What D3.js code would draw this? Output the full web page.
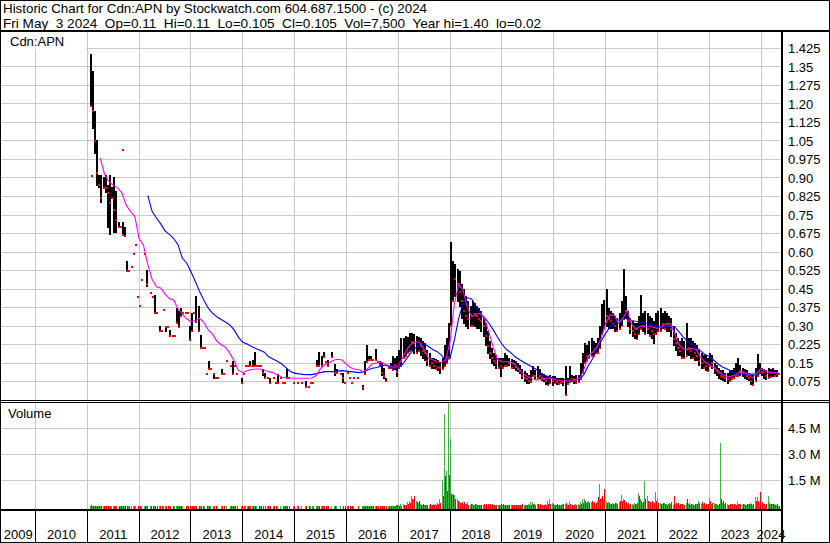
<!DOCTYPE html>
<html><head><meta charset="utf-8">
<script src="https://cdn.jsdelivr.net/npm/d3@7"></script>
<style>
body{margin:0;background:#fff}
svg{display:block}
text{font-family:"Liberation Sans",Arial,sans-serif;font-size:13px;fill:#000;white-space:pre}
</style>
</head><body><svg id="c" width="830" height="543"></svg>
<script>
// ---------------- data ----------------
const titleLine = "Historic Chart for Cdn:APN by Stockwatch.com 604.687.1500 - (c) 2024";
const infoLine  = "Fri May  3 2024  Op=0.11  Hi=0.11  Lo=0.105  Cl=0.105  Vol=7,500  Year hi=1.40  lo=0.02";
const symbolLabel = "Cdn:APN";
const volumeLabel = "Volume";
const yearLabels = [2009,2010,2011,2012,2013,2014,2015,2016,2017,2018,2019,2020,2021,2022,2023,2024];
const gridYears  = [2010,2011,2012,2013,2014,2015,2016,2017,2018,2019,2020,2021,2022,2023,2024];
const priceTicks = [1.425,1.35,1.275,1.2,1.125,1.05,0.975,0.9,0.825,0.75,0.675,0.6,0.525,0.45,0.375,0.3,0.225,0.15,0.075];
const priceTickLabels = ["1.425","1.35","1.275","1.20","1.125","1.05","0.975","0.90","0.825","0.75","0.675","0.60","0.525","0.45","0.375","0.30","0.225","0.15","0.075"];
const volTicks = [1.5e6,3.0e6,4.5e6];
const volTickLabels = ["1.5 M","3.0 M","4.5 M"];

// half-month periods starting Jan 1-15 2011 (24 per year); null close = no trade,
// null high/low = single-price period
const periodStartYear = 2011;
const close = [
/*2011*/ null,1.25,1.17,1.05,0.92,0.87,0.82,0.87,0.86,0.84,0.80,0.845,0.77,0.73,0.70,0.70,0.67,0.666,0.523,0.523,0.541,0.592,0.628,0.419,
/*2012*/ 0.383,0.487,0.592,0.47,null,0.433,0.419,0.352,0.352,0.28,0.28,0.365,0.298,0.298,0.261,0.261,0.261,0.352,0.298,0.352,0.352,0.352,0.352,0.244,
/*2013*/ 0.28,0.352,0.386,0.28,0.212,0.212,0.212,0.105,0.125,0.125,0.105,0.089,0.089,null,0.105,0.105,0.159,null,0.139,0.139,0.139,0.105,null,0.071,
/*2014*/ 0.105,0.139,0.139,0.139,0.139,0.176,0.139,0.139,0.139,0.109,0.089,0.089,0.071,null,0.089,0.071,0.089,0.089,0.071,0.071,0.089,0.089,null,0.071,
/*2015*/ null,0.071,null,0.071,null,0.071,0.055,0.071,0.071,null,0.139,0.193,0.139,0.176,0.156,0.139,null,0.176,0.109,0.125,null,0.105,0.089,0.071,
/*2016*/ 0.109,0.089,0.071,0.089,null,0.089,null,0.05,0.139,0.176,0.163,0.176,0.163,0.163,0.156,0.143,0.11,0.10,0.079,0.13,0.15,0.16,0.143,0.116,
/*2017*/ 0.15,0.20,0.22,0.23,0.24,0.24,0.235,0.23,0.23,0.23,0.22,0.20,0.19,0.16,0.16,0.15,0.14,0.14,0.135,0.13,0.15,0.17,0.20,0.25,
/*2018*/ 0.45,0.50,0.49,0.47,0.44,0.40,0.36,0.34,0.33,0.35,0.36,0.35,0.34,0.33,0.32,0.30,0.26,0.22,0.19,0.17,0.16,0.15,0.15,0.14,
/*2019*/ 0.15,0.16,0.16,0.15,0.15,0.145,0.135,0.125,0.12,0.10,0.09,0.085,0.08,0.10,0.11,0.10,0.11,0.10,0.09,0.085,0.08,0.08,0.085,0.08,
/*2020*/ 0.08,0.075,0.075,0.08,0.075,0.075,0.08,0.09,0.085,0.08,0.085,0.09,0.12,0.15,0.19,0.18,0.20,0.21,0.21,0.21,0.22,0.26,0.33,0.35,
/*2021*/ 0.34,0.33,0.32,0.31,0.30,0.30,0.31,0.34,0.38,0.36,0.32,0.29,0.28,0.27,0.28,0.30,0.31,0.30,0.30,0.29,0.29,0.28,0.27,0.30,
/*2022*/ 0.31,0.32,0.31,0.32,0.31,0.30,0.29,0.25,0.23,0.21,0.20,0.20,0.20,0.22,0.21,0.20,0.20,0.19,0.18,0.16,0.15,0.15,0.14,0.14,
/*2023*/ 0.16,0.15,0.13,0.12,0.11,0.10,0.095,0.09,0.085,0.095,0.10,0.11,0.12,0.13,0.12,0.11,0.105,0.10,0.09,0.08,0.08,0.11,0.13,0.13,
/*2024*/ 0.115,0.11,0.10,0.11,0.115,0.11,0.11,0.105,0.105
];
const high = [
/*2011*/ null,1.40,1.33,1.17,1.05,0.91,0.91,0.90,0.91,0.87,0.91,0.86,0.90,0.845,0.72,null,0.72,0.70,0.56,null,null,null,null,null,
/*2012*/ null,null,null,0.527,null,null,null,0.423,null,0.30,null,null,0.298,null,0.283,null,null,0.372,0.36,0.372,null,null,null,0.298,
/*2013*/ 0.352,null,0.419,0.38,0.264,null,null,null,0.156,null,0.105,null,null,null,0.125,null,null,null,null,0.156,null,null,null,0.089,
/*2014*/ null,null,null,0.156,0.163,0.193,null,null,null,0.125,0.109,null,0.089,null,null,null,0.105,null,null,null,0.123,null,null,null,
/*2015*/ null,null,null,null,null,0.075,null,null,null,null,0.16,0.193,0.176,0.193,null,0.163,null,0.193,0.143,0.125,null,null,0.109,null,
/*2016*/ null,null,null,null,null,null,null,0.058,0.156,0.22,0.176,0.176,null,0.204,null,0.156,0.15,0.13,0.089,null,0.15,0.179,0.17,0.176,
/*2017*/ 0.20,0.25,0.25,0.26,0.255,0.27,0.27,0.265,0.26,0.255,0.25,0.24,0.23,0.20,0.19,0.17,0.17,0.165,0.16,0.155,0.17,0.22,0.25,0.31,
/*2018*/ 0.64,0.56,0.55,0.53,0.52,0.47,0.45,0.42,0.40,0.38,0.40,0.39,0.38,0.37,0.36,0.33,0.31,0.28,0.24,0.21,0.19,0.18,0.17,0.17,
/*2019*/ 0.17,0.19,0.18,0.17,0.165,0.16,0.156,0.15,0.14,0.125,0.115,0.11,0.10,0.12,0.136,0.12,0.136,0.125,0.11,0.105,0.096,0.095,0.10,0.095,
/*2020*/ 0.095,0.09,0.09,0.09,0.09,0.136,0.09,0.136,0.10,0.095,0.10,0.10,0.15,0.19,0.231,0.22,0.24,0.25,0.24,0.23,0.25,0.30,0.386,0.406,
/*2021*/ 0.45,0.37,0.36,0.35,0.34,0.33,0.35,0.40,0.53,0.42,0.36,0.33,0.32,0.31,0.31,0.34,0.425,0.35,0.36,0.35,0.34,0.33,0.32,0.35,
/*2022*/ 0.36,0.37,0.35,0.36,0.35,0.34,0.33,0.30,0.27,0.25,0.24,0.25,0.24,0.31,0.25,0.25,0.24,0.23,0.22,0.20,0.19,0.18,0.18,0.17,
/*2023*/ 0.19,0.18,0.15,0.14,0.13,0.12,0.12,0.11,0.11,0.115,0.12,0.13,0.15,0.17,0.14,0.13,0.125,0.12,0.11,0.10,0.10,0.13,0.187,0.15,
/*2024*/ 0.13,0.125,0.12,0.13,0.125,0.13,0.12,0.12,0.11
];
const low = [
/*2011*/ null,1.19,1.10,1.00,0.87,0.86,0.80,0.86,0.84,0.70,0.67,0.82,0.68,0.68,0.70,null,0.67,0.666,0.52,null,null,null,null,null,
/*2012*/ null,null,null,0.46,null,null,null,0.352,null,0.28,null,null,0.28,null,0.261,null,null,0.312,0.298,0.34,null,null,null,0.244,
/*2013*/ 0.28,null,0.318,0.28,0.208,null,null,null,0.125,null,0.089,null,null,null,0.105,null,null,null,null,0.105,null,null,null,0.071,
/*2014*/ null,null,null,0.139,0.139,0.139,null,null,null,0.102,0.089,null,0.068,null,null,null,0.071,null,null,null,0.089,null,null,null,
/*2015*/ null,null,null,null,null,0.053,null,null,null,null,0.139,0.139,0.139,0.176,null,0.136,null,0.176,0.102,0.109,null,null,0.071,null,
/*2016*/ null,null,null,null,null,null,null,0.042,0.105,0.156,0.163,0.163,null,0.163,null,0.143,0.10,0.089,0.079,null,0.13,0.123,0.123,0.095,
/*2017*/ 0.13,0.14,0.17,0.18,0.19,0.20,0.20,0.19,0.19,0.20,0.18,0.17,0.16,0.14,0.14,0.13,0.13,0.125,0.12,0.11,0.125,0.14,0.15,0.17,
/*2018*/ 0.30,0.40,0.42,0.40,0.38,0.33,0.31,0.30,0.29,0.30,0.30,0.30,0.29,0.29,0.28,0.26,0.22,0.19,0.17,0.15,0.14,0.13,0.13,0.096,
/*2019*/ 0.13,0.14,0.14,0.14,0.13,0.13,0.12,0.116,0.11,0.09,0.075,0.07,0.07,0.075,0.10,0.09,0.09,0.087,0.08,0.075,0.065,0.06,0.07,0.06,
/*2020*/ 0.07,0.065,0.065,0.07,0.06,0.021,0.065,0.075,0.075,0.07,0.07,0.075,0.085,0.11,0.15,0.16,0.17,0.18,0.18,0.19,0.19,0.21,0.27,0.29,
/*2021*/ 0.30,0.29,0.29,0.29,0.28,0.28,0.29,0.30,0.33,0.33,0.30,0.27,0.26,0.25,0.25,0.27,0.29,0.28,0.27,0.27,0.26,0.25,0.23,0.27,
/*2022*/ 0.28,0.28,0.29,0.29,0.28,0.28,0.26,0.22,0.20,0.18,0.18,0.17,0.17,0.18,0.18,0.17,0.17,0.16,0.16,0.14,0.13,0.13,0.12,0.12,
/*2023*/ 0.14,0.13,0.11,0.10,0.09,0.085,0.08,0.075,0.07,0.08,0.085,0.09,0.10,0.10,0.10,0.095,0.09,0.085,0.08,0.065,0.06,0.08,0.10,0.11,
/*2024*/ 0.10,0.09,0.085,0.09,0.095,0.095,0.10,0.095,0.105
];
// isolated single trades (fractional year, price)
const oddDates  = [2011.085, 2011.683];
const oddPrices = [0.909, 1.013];

// daily-peak volume per half-month, thousands of shares (up days / down days)
const volUp = [
/*2011*/ 0,40,30,20,10,30,20,30,20,10,20,30,10,20,0,10,20,10,0,10,20,10,20,0,
/*2012*/ 10,20,30,10,0,10,0,20,0,10,0,20,10,0,10,0,10,30,20,20,10,0,10,0,
/*2013*/ 10,20,30,0,10,0,10,0,20,10,10,0,10,0,10,0,20,0,10,20,10,0,0,10,
/*2014*/ 0,20,10,10,20,30,10,0,10,0,0,10,10,0,20,0,20,10,0,10,20,0,0,10,
/*2015*/ 0,10,0,10,0,10,0,20,10,0,20,30,10,20,0,10,0,20,10,20,0,10,0,0,
/*2016*/ 10,0,10,10,0,0,0,10,30,40,20,30,10,20,10,0,20,10,0,20,30,40,20,60,
/*2017*/ 60,120,130,100,250,300,620,420,300,200,150,80,60,100,80,100,120,150,200,440,1540,5300,2050,6000,
/*2018*/ 3900,700,680,400,300,200,150,120,230,100,150,100,120,80,100,60,80,100,80,60,100,80,90,60,
/*2019*/ 80,100,60,80,100,50,60,80,50,60,80,100,120,230,250,150,120,80,100,80,150,300,420,200,
/*2020*/ 100,80,60,100,120,150,100,300,100,80,120,150,250,400,420,200,300,250,200,150,300,1290,500,400,
/*2021*/ 300,250,150,200,150,200,250,680,400,200,150,100,150,200,150,790,400,200,1440,600,300,200,250,800,
/*2022*/ 500,200,150,200,150,120,150,100,150,120,100,150,120,200,150,100,120,100,150,300,150,120,100,150,
/*2023*/ 500,150,200,120,100,3650,200,150,120,100,150,100,120,300,150,100,120,100,150,200,100,520,520,200,
/*2024*/ 100,150,100,600,150,120,150,100,30
];
const volDown = [
/*2011*/ 0,50,40,40,30,20,30,10,20,30,30,0,30,30,20,10,10,20,30,20,0,10,0,20,
/*2012*/ 20,0,10,30,0,20,10,20,10,20,10,0,20,10,20,10,0,10,30,10,0,10,10,20,
/*2013*/ 20,10,10,30,20,10,0,20,10,0,10,20,0,0,10,10,0,0,10,10,10,20,0,10,
/*2014*/ 10,0,10,20,10,10,0,10,10,20,20,10,20,0,10,10,0,0,10,10,10,10,0,10,
/*2015*/ 0,10,0,0,0,20,10,0,10,0,10,10,20,10,20,20,0,0,30,0,0,0,20,10,
/*2016*/ 10,20,10,0,0,10,0,20,10,20,10,10,20,20,10,20,30,20,30,10,10,30,40,80,
/*2017*/ 40,30,50,90,120,200,400,580,250,300,100,120,100,80,120,60,90,100,150,200,600,1770,900,1800,
/*2018*/ 700,680,400,300,200,250,230,150,100,150,80,120,80,100,60,120,150,140,120,150,90,60,100,120,
/*2019*/ 120,80,100,60,50,80,100,70,90,120,60,80,60,100,120,100,150,120,60,90,100,120,150,120,
/*2020*/ 80,120,100,80,150,200,80,120,80,100,80,100,150,200,300,250,200,300,250,180,520,400,600,1000,
/*2021*/ 200,200,120,150,200,120,300,300,350,250,200,150,100,150,200,600,300,250,400,300,250,300,200,300,
/*2022*/ 200,150,200,120,100,200,250,600,200,180,150,120,100,400,200,150,100,150,120,200,250,200,150,120,
/*2023*/ 300,200,150,100,120,400,300,200,100,150,120,150,100,150,120,150,100,150,120,150,150,300,300,800,
/*2024*/ 250,120,150,200,120,150,100,150,20
];

// moving averages, monthly readings
const maShortStart = 2011 + 3/12;
const maShort = [
/*2011*/ 0.98,0.915,0.885,0.87,0.86,0.84,0.79,0.765,0.745,
/*2012*/ 0.655,0.628,0.55,0.49,0.46,0.455,0.43,0.412,0.406,0.37,0.35,0.33,
/*2013*/ 0.318,0.323,0.332,0.315,0.285,0.268,0.24,0.225,0.215,0.19,0.16,0.12,
/*2014*/ 0.113,0.12,0.125,0.127,0.127,0.122,0.116,0.112,0.104,0.093,0.091,0.089,
/*2015*/ 0.089,0.089,0.089,0.089,0.09,0.10,0.128,0.145,0.152,0.162,0.166,0.163,
/*2016*/ 0.146,0.132,0.126,0.124,0.115,0.13,0.147,0.151,0.155,0.146,0.14,0.133,
/*2017*/ 0.14,0.172,0.205,0.228,0.237,0.235,0.205,0.17,0.164,0.156,0.154,0.162,
/*2018*/ 0.24,0.39,0.47,0.445,0.375,0.338,0.348,0.352,0.33,0.275,0.215,0.165,
/*2019*/ 0.156,0.156,0.156,0.145,0.122,0.107,0.095,0.087,0.082,0.084,0.088,0.09,
/*2020*/ 0.085,0.08,0.078,0.078,0.08,0.085,0.088,0.125,0.18,0.195,0.217,0.25,
/*2021*/ 0.31,0.345,0.345,0.312,0.33,0.365,0.31,0.286,0.30,0.30,0.30,0.297,
/*2022*/ 0.291,0.298,0.31,0.311,0.27,0.225,0.208,0.206,0.21,0.206,0.175,0.156,
/*2023*/ 0.145,0.133,0.12,0.105,0.096,0.097,0.102,0.113,0.115,0.105,0.09,0.11,
/*2024*/ 0.128,0.12,0.113,0.112,0.112
];
const maLongStart = 2012 + 2/12;
const maLong = [
/*2012*/ 0.83,0.765,0.738,0.714,0.686,0.672,0.655,0.63,0.575,0.556,
/*2013*/ 0.52,0.482,0.44,0.405,0.373,0.353,0.338,0.327,0.317,0.305,0.285,0.255,
/*2014*/ 0.235,0.228,0.218,0.21,0.203,0.195,0.176,0.167,0.158,0.148,0.132,0.117,
/*2015*/ 0.11,0.107,0.105,0.104,0.104,0.108,0.112,0.116,0.116,0.116,0.118,0.12,
/*2016*/ 0.118,0.116,0.114,0.112,0.116,0.124,0.13,0.133,0.138,0.143,0.136,0.127,
/*2017*/ 0.135,0.146,0.17,0.194,0.212,0.226,0.228,0.218,0.206,0.197,0.183,0.162,
/*2018*/ 0.17,0.245,0.333,0.39,0.415,0.41,0.382,0.352,0.335,0.312,0.285,0.255,
/*2019*/ 0.228,0.206,0.194,0.177,0.165,0.155,0.145,0.135,0.125,0.108,0.10,0.095,
/*2020*/ 0.088,0.085,0.084,0.084,0.084,0.085,0.085,0.104,0.14,0.168,0.205,0.24,
/*2021*/ 0.27,0.296,0.313,0.325,0.33,0.33,0.323,0.32,0.318,0.315,0.31,0.304,
/*2022*/ 0.301,0.298,0.298,0.298,0.298,0.278,0.256,0.24,0.226,0.215,0.20,0.186,
/*2023*/ 0.177,0.163,0.148,0.136,0.128,0.12,0.11,0.106,0.106,0.106,0.106,0.107,
/*2024*/ 0.108,0.109,0.109,0.109,0.109
];

// ---------------- drawing ----------------
const W = 830, H = 543;
const svg = d3.select("#c");
const PL = 1, PR = 781;
const priceTop = 32, priceBottom = 400;
const volTop = 403, volBottom = 509;
const dateTop = 511, dateBottom = 542;

const x  = d3.scaleLinear().domain([2010, 2024]).range([35.5, 761]);
const yP = d3.scaleLinear().domain([0, 1.425]).range([400.3, 48.3]);
const yV = d3.scaleLinear().domain([0, 6e6]).range([506.3, 402.3]);
const tPeriod = i => periodStartYear + (i + 0.5) / 24;
const px = v => Math.floor(v) + 0.5;

svg.append("rect").attr("width", W).attr("height", H).attr("fill", "#fff");

const grid = svg.append("g").attr("stroke", "#c8c8c8").attr("stroke-width", 1).attr("shape-rendering", "crispEdges");
grid.selectAll(".hp").data(priceTicks).join("line").attr("class","hp")
  .attr("x1", PL).attr("x2", PR).attr("y1", d => px(yP(d))).attr("y2", d => px(yP(d)));
grid.selectAll(".vp").data(gridYears).join("line").attr("class","vp")
  .attr("x1", d => px(x(d))).attr("x2", d => px(x(d))).attr("y1", priceTop).attr("y2", priceBottom);
grid.selectAll(".hv").data(volTicks).join("line").attr("class","hv")
  .attr("x1", PL).attr("x2", PR).attr("y1", d => px(yV(d))).attr("y2", d => px(yV(d)));
grid.selectAll(".vv").data(gridYears).join("line").attr("class","vv")
  .attr("x1", d => px(x(d))).attr("x2", d => px(x(d))).attr("y1", volTop).attr("y2", volBottom);

svg.append("rect").attr("x", 1).attr("y", 32).attr("width", 85).attr("height", 17).attr("fill", "#fff");
svg.append("text").attr("x", 10).attr("y", 46).text(symbolLabel);

const defs = svg.append("defs");
defs.append("clipPath").attr("id", "pc").append("rect").attr("x", PL).attr("y", priceTop).attr("width", PR - PL).attr("height", priceBottom - priceTop);

const price = svg.append("g").attr("clip-path", "url(#pc)").attr("shape-rendering", "crispEdges");
const idx = d3.range(close.length).filter(i => close[i] != null);
price.selectAll(".bar").data(idx.filter(i => high[i] != null)).join("rect").attr("class","bar")
  .attr("x", i => Math.round(x(tPeriod(i))) - 1)
  .attr("width", 2)
  .attr("y", i => Math.floor(yP(high[i])))
  .attr("height", i => Math.max(1, Math.ceil(yP(low[i])) - Math.floor(yP(high[i]))))
  .attr("fill", "#000");
// red ticks: close on single-price / down periods, low on up periods
let prevClose = null;
const redMarks = [];
idx.forEach(i => {
  if (high[i] == null) redMarks.push([i, close[i]]);
  else if (prevClose != null && close[i] < prevClose) redMarks.push([i, close[i]]);
  else redMarks.push([i, low[i]]);
  prevClose = close[i];
});
price.selectAll(".dot").data(redMarks).join("rect").attr("class","dot")
  .attr("x", d => Math.round(x(tPeriod(d[0]))) - 1)
  .attr("y", d => Math.round(yP(d[1])) - 1)
  .attr("width", 2).attr("height", 2).attr("fill", "#ff0000");
price.selectAll(".odd").data(d3.range(oddDates.length)).join("rect").attr("class","odd")
  .attr("x", i => Math.round(x(oddDates[i])) - 1)
  .attr("y", i => Math.round(yP(oddPrices[i])) - 1)
  .attr("width", 2).attr("height", 2).attr("fill", "#ff0000");

const lineShort = d3.line().x((d, i) => x(maShortStart + i / 12)).y(d => yP(d));
const lineLong  = d3.line().x((d, i) => x(maLongStart + i / 12)).y(d => yP(d));
const maG = svg.append("g").attr("clip-path", "url(#pc)").attr("fill", "none").attr("stroke-width", 1.1);
maG.append("path").attr("d", lineLong(maLong)).attr("stroke", "#0000ff");
maG.append("path").attr("d", lineShort(maShort)).attr("stroke", "#ff00ff");

const vol = svg.append("g").attr("shape-rendering", "crispEdges");
const vIdx = d3.range(volUp.length);
vol.selectAll(".vu").data(vIdx.filter(i => volUp[i] > 0)).join("rect").attr("class","vu")
  .attr("x", i => Math.round(x(tPeriod(i))) - 1).attr("width", 1)
  .attr("y", i => Math.round(yV(volUp[i] * 1000)))
  .attr("height", i => volBottom - Math.round(yV(volUp[i] * 1000)))
  .attr("fill", "#44b044");
vol.selectAll(".vd").data(vIdx.filter(i => volDown[i] > 0)).join("rect").attr("class","vd")
  .attr("x", i => Math.round(x(tPeriod(i)))).attr("width", 1)
  .attr("y", i => Math.round(yV(volDown[i] * 1000)))
  .attr("height", i => volBottom - Math.round(yV(volDown[i] * 1000)))
  .attr("fill", "#ff0000");
svg.append("text").attr("x", 8).attr("y", 418).text(volumeLabel);

const frame = svg.append("g").attr("shape-rendering", "crispEdges");
frame.append("rect").attr("x", 0).attr("y", 30).attr("width", W).attr("height", 2).attr("fill", "#000");
frame.append("rect").attr("x", 0).attr("y", 400).attr("width", W).attr("height", 1).attr("fill", "#000");
frame.append("rect").attr("x", 0).attr("y", 402).attr("width", W).attr("height", 1).attr("fill", "#000");
frame.append("rect").attr("x", 0).attr("y", volBottom).attr("width", PR).attr("height", 2).attr("fill", "#000");
frame.append("rect").attr("x", PR).attr("y", 30).attr("width", 2).attr("height", H - 30).attr("fill", "#000");
frame.selectAll(".dl").data(gridYears).join("line").attr("class","dl")
  .attr("x1", d => px(x(d))).attr("x2", d => px(x(d))).attr("y1", dateTop).attr("y2", dateBottom)
  .attr("stroke", "#000");
frame.append("rect").attr("x", 0.5).attr("y", 0.5).attr("width", W - 1).attr("height", H - 1)
  .attr("fill", "none").attr("stroke", "#000");

svg.append("text").attr("x", 3).attr("y", 13).attr("textLength", 424).attr("lengthAdjust", "spacingAndGlyphs").text(titleLine);
svg.append("text").attr("x", 3).attr("y", 28).attr("textLength", 538).attr("lengthAdjust", "spacingAndGlyphs").text(infoLine);

svg.selectAll(".pl").data(priceTicks).join("text").attr("class","pl")
  .attr("x", 788).attr("y", d => yP(d) + 4.7).text((d, i) => priceTickLabels[i]);
svg.selectAll(".vl").data(volTicks).join("text").attr("class","vl")
  .attr("x", 788).attr("y", d => yV(d) + 4.7).text((d, i) => volTickLabels[i]);

const bounds = [PL].concat(gridYears.map(x)).concat([PR]);
svg.selectAll(".yl").data(yearLabels).join("text").attr("class","yl")
  .attr("x", (d, i) => (bounds[i] + bounds[i + 1]) / 2)
  .attr("y", 539).attr("text-anchor", "middle").text(d => d);
</script>
</body></html>
